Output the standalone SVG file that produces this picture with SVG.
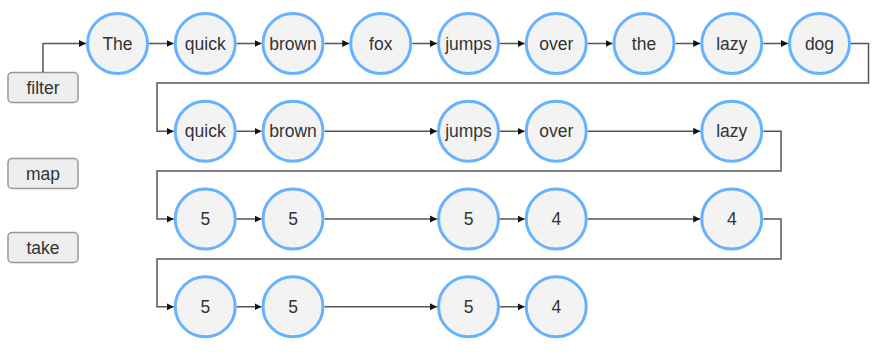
<svg xmlns="http://www.w3.org/2000/svg" width="880" height="353" viewBox="0 0 880 353">
<style>
.n circle{fill:#f3f3f3;stroke:#66b2ff;stroke-width:3}
.n text,.b text{font-family:"Liberation Sans",Arial,sans-serif;font-size:17.5px;fill:#333;text-anchor:middle;dominant-baseline:central}
.b rect{fill:#eeeeee;stroke:#999;stroke-width:1.5}
.c path{fill:none;stroke:#555;stroke-width:1.5;marker-end:url(#ah)}
</style>
<defs>
<marker id="ah" markerWidth="8" markerHeight="8" refX="7" refY="4" orient="auto" markerUnits="userSpaceOnUse">
<path d="M0,0.5 L7,4 L0,7.5 z" fill="#111"/>
</marker>
</defs>
<rect width="880" height="353" fill="#fff"/>
<g id="filter" class="b"><rect x="8" y="72.5" width="70" height="30" rx="4"/><text x="43" y="88">filter</text></g>
<g id="map" class="b"><rect x="8" y="158.5" width="70" height="30" rx="4"/><text x="43" y="174">map</text></g>
<g id="take" class="b"><rect x="8" y="232.5" width="70" height="30" rx="4"/><text x="43" y="248">take</text></g>
<g class="c" id="connectors">
<path d="M43,72.5 V43.5 H86"/>
<path d="M149,43.5 H173.5"/>
<path d="M236.75,43.5 H261.5"/>
<path d="M324.5,43.5 H349.25"/>
<path d="M412.25,43.5 H437"/>
<path d="M500,43.5 H524.75"/>
<path d="M587.75,43.5 H612.5"/>
<path d="M675.5,43.5 H700.25"/>
<path d="M763.25,43.5 H788"/>
<path d="M851,43.5 H868.5 V83 H157 V131.25 H173.75"/>
<path d="M236.75,131.25 H261.5"/>
<path d="M324.5,131.25 H437"/>
<path d="M500,131.25 H524.75"/>
<path d="M587.75,131.25 H700.25"/>
<path d="M763.25,131.25 H781 V171 H157 V219 H173.75"/>
<path d="M236.75,219 H261.5"/>
<path d="M324.5,219 H437"/>
<path d="M500,219 H524.75"/>
<path d="M587.75,219 H700.25"/>
<path d="M763.25,219 H781 V259 H157 V306.75 H173.75"/>
<path d="M236.75,306.75 H261.5"/>
<path d="M324.5,306.75 H437"/>
<path d="M500,306.75 H524.75"/>
</g>
<g id="r1n0" class="n"><circle cx="117.5" cy="43.5" r="30"/><text x="117.5" y="43.5">The</text></g>
<g id="r1n1" class="n"><circle cx="205.25" cy="43.5" r="30"/><text x="205.25" y="43.5">quick</text></g>
<g id="r1n2" class="n"><circle cx="293" cy="43.5" r="30"/><text x="293" y="43.5">brown</text></g>
<g id="r1n3" class="n"><circle cx="380.75" cy="43.5" r="30"/><text x="380.75" y="43.5">fox</text></g>
<g id="r1n4" class="n"><circle cx="468.5" cy="43.5" r="30"/><text x="468.5" y="43.5">jumps</text></g>
<g id="r1n5" class="n"><circle cx="556.25" cy="43.5" r="30"/><text x="556.25" y="43.5">over</text></g>
<g id="r1n6" class="n"><circle cx="644" cy="43.5" r="30"/><text x="644" y="43.5">the</text></g>
<g id="r1n7" class="n"><circle cx="731.75" cy="43.5" r="30"/><text x="731.75" y="43.5">lazy</text></g>
<g id="r1n8" class="n"><circle cx="819.5" cy="43.5" r="30"/><text x="819.5" y="43.5">dog</text></g>
<g id="r2n1" class="n"><circle cx="205.25" cy="131.25" r="30"/><text x="205.25" y="131.25">quick</text></g>
<g id="r2n2" class="n"><circle cx="293" cy="131.25" r="30"/><text x="293" y="131.25">brown</text></g>
<g id="r2n4" class="n"><circle cx="468.5" cy="131.25" r="30"/><text x="468.5" y="131.25">jumps</text></g>
<g id="r2n5" class="n"><circle cx="556.25" cy="131.25" r="30"/><text x="556.25" y="131.25">over</text></g>
<g id="r2n7" class="n"><circle cx="731.75" cy="131.25" r="30"/><text x="731.75" y="131.25">lazy</text></g>
<g id="r3n1" class="n"><circle cx="205.25" cy="219" r="30"/><text x="205.25" y="219">5</text></g>
<g id="r3n2" class="n"><circle cx="293" cy="219" r="30"/><text x="293" y="219">5</text></g>
<g id="r3n4" class="n"><circle cx="468.5" cy="219" r="30"/><text x="468.5" y="219">5</text></g>
<g id="r3n5" class="n"><circle cx="556.25" cy="219" r="30"/><text x="556.25" y="219">4</text></g>
<g id="r3n7" class="n"><circle cx="731.75" cy="219" r="30"/><text x="731.75" y="219">4</text></g>
<g id="r4n1" class="n"><circle cx="205.25" cy="306.75" r="30"/><text x="205.25" y="306.75">5</text></g>
<g id="r4n2" class="n"><circle cx="293" cy="306.75" r="30"/><text x="293" y="306.75">5</text></g>
<g id="r4n4" class="n"><circle cx="468.5" cy="306.75" r="30"/><text x="468.5" y="306.75">5</text></g>
<g id="r4n5" class="n"><circle cx="556.25" cy="306.75" r="30"/><text x="556.25" y="306.75">4</text></g>
</svg>
